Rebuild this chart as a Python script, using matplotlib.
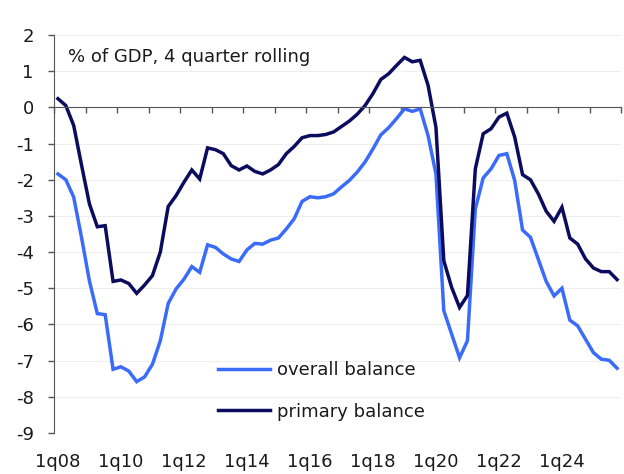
import numpy as np
import matplotlib
matplotlib.use("Agg")
import matplotlib.pyplot as plt
import matplotlib.transforms as mtransforms

plt.rcParams['font.family'] = ['DejaVu Sans']
plt.rcParams['axes.unicode_minus'] = False

# quarterly, 1q08 .. 4q25
quarters = [f"{q}q{y:02d}" for y in range(8, 26) for q in range(1, 5)]

overall = [-1.84, -2.0, -2.48, -3.6, -4.8, -5.7, -5.73, -7.24,
           -7.17, -7.29, -7.58, -7.45, -7.1, -6.45, -5.42, -5.02,
           -4.75, -4.4, -4.56, -3.8, -3.87, -4.05, -4.19, -4.26,
           -3.94, -3.76, -3.78, -3.67, -3.61, -3.36, -3.08, -2.6,
           -2.47, -2.5, -2.47, -2.39, -2.2, -2.02, -1.79, -1.51,
           -1.15, -0.76, -0.56, -0.31, -0.04, -0.11, -0.04, -0.78,
           -1.84, -5.62, -6.27, -6.92, -6.45, -2.81, -1.95, -1.7,
           -1.33, -1.28, -2.02, -3.39, -3.59, -4.2, -4.81, -5.21,
           -5.0, -5.88, -6.04, -6.41, -6.78, -6.96, -6.99, -7.21]

primary = [0.24, 0.05, -0.5, -1.6, -2.67, -3.3, -3.27, -4.81,
           -4.77, -4.87, -5.14, -4.91, -4.65, -4.0, -2.74, -2.44,
           -2.07, -1.73, -1.98, -1.12, -1.17, -1.28, -1.61, -1.73,
           -1.62, -1.77, -1.84, -1.73, -1.58, -1.28, -1.08, -0.84,
           -0.78, -0.78, -0.75, -0.68, -0.53, -0.38, -0.19, 0.05,
           0.38, 0.77, 0.93, 1.16, 1.38, 1.26, 1.3, 0.61,
           -0.55, -4.24, -4.98, -5.53, -5.2, -1.7, -0.73, -0.59,
           -0.27, -0.16, -0.82, -1.86, -2.0, -2.39, -2.87, -3.15,
           -2.76, -3.61, -3.78, -4.19, -4.44, -4.54, -4.54, -4.76]

light = "#3a6bfb"
dark = "#0c0c5e"
axis_col = "#555555"
txt_col = "#1a1a1a"
fs = 13

fig = plt.figure(figsize=(6.24, 4.74), dpi=100)
ax = fig.add_axes([54 / 624, 41 / 474, 567 / 624, 398 / 474])

x = np.arange(len(quarters))
ax.plot(x, overall, color=light, lw=2.5, label="overall balance", solid_joinstyle="miter")
ax.plot(x, primary, color=dark, lw=2.5, label="primary balance", solid_joinstyle="miter")

ax.set_xlim(-0.5, len(quarters) - 0.5)
ax.set_ylim(-9, 2)
ax.set_yticks(range(-9, 3))
ax.yaxis.grid(True, color="#efefef", lw=0.8)
ax.set_axisbelow(True)

for s in ["top", "right"]:
    ax.spines[s].set_visible(False)
ax.spines["left"].set_color(axis_col)
ax.spines["bottom"].set_position(("data", 0))
ax.spines["bottom"].set_color(axis_col)

# tick marks between years on the zero line, labels along the bottom
ax.set_xticks(np.arange(-0.5, len(quarters), 4))
ax.set_xticklabels([])
ax.tick_params(axis="x", direction="out", length=4.5, width=1, color=axis_col)
ax.tick_params(axis="y", direction="out", length=4.5, width=1, color=axis_col,
               labelsize=fs, pad=10, labelcolor=txt_col)

trans = mtransforms.blended_transform_factory(ax.transData, ax.transAxes)
for i in range(0, len(quarters), 8):
    ax.text(i, -0.073, quarters[i], transform=trans, ha="center", va="center",
            fontsize=fs, color=txt_col)

ax.text(0.025, 0.945, "% of GDP, 4 quarter rolling", transform=ax.transAxes,
        ha="left", va="center", fontsize=fs, color=txt_col)

leg = ax.legend(loc="upper left", bbox_to_anchor=(0.289, 0.181), frameon=False,
                fontsize=fs, borderpad=0, borderaxespad=0, handlelength=2.9,
                handletextpad=0.35, labelspacing=1.32)
for t in leg.get_texts():
    t.set_color(txt_col)

fig.savefig("out.png", dpi=100)
